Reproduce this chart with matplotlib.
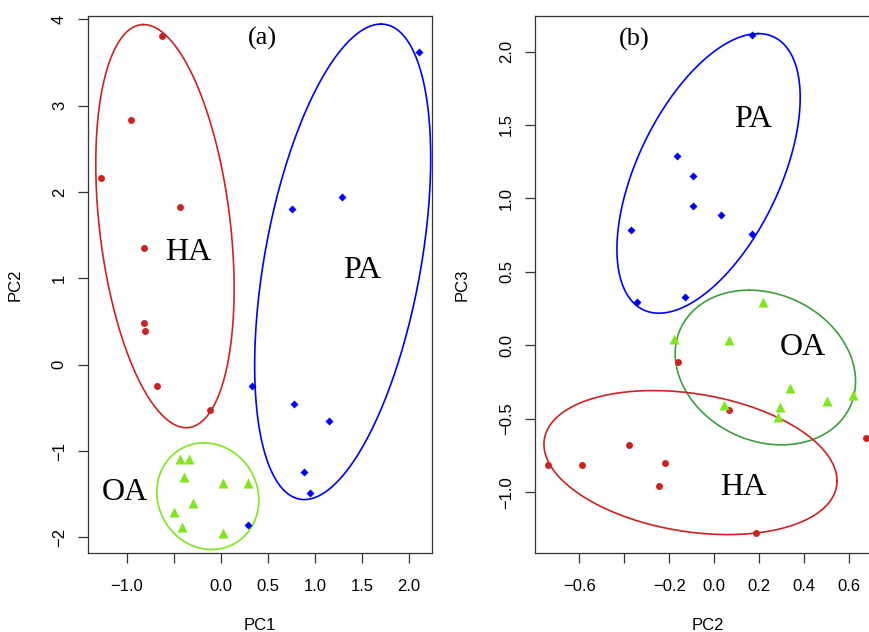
import numpy as np
import matplotlib
matplotlib.use("Agg")
import matplotlib.pyplot as plt

plt.rcParams['font.family'] = ['Liberation Sans', 'DejaVu Sans']

# panel (a): PC1 vs PC2
ha_a_x = [-0.63, -0.96, -1.28, -0.44, -0.82, -0.82, -0.805, -0.684, -0.12]
ha_a_y = [3.81, 2.835, 2.16, 1.83, 1.35, 0.48, 0.39, -0.247, -0.525]
pa_a_x = [2.106, 1.287, 0.755, 0.326, 0.78, 1.145, 0.883, 0.947, 0.29]
pa_a_y = [3.62, 1.943, 1.81, -0.243, -0.455, -0.649, -1.247, -1.49, -1.85]
oa_a_x = [-0.436, -0.344, -0.39, 0.025, 0.287, -0.295, -0.5, -0.415, 0.025]
oa_a_y = [-1.096, -1.089, -1.30, -1.367, -1.367, -1.60, -1.71, -1.884, -1.947]

# panel (b): PC2 vs PC3
pa_b_x = [0.168, -0.166, -0.093, -0.096, 0.03, -0.371, 0.169, -0.343, -0.132]
pa_b_y = [2.11, 1.289, 1.15, 0.949, 0.885, 0.783, 0.759, 0.294, 0.331]
ha_b_x = [-0.162, 0.067, 0.678, -0.38, -0.221, -0.741, -0.589, -0.245, 0.187]
ha_b_y = [-0.115, -0.44, -0.627, -0.679, -0.802, -0.813, -0.815, -0.956, -1.277]
oa_b_x = [0.218, -0.179, 0.068, 0.338, 0.502, 0.616, 0.045, 0.294, 0.284]
oa_b_y = [0.297, 0.041, 0.039, -0.287, -0.38, -0.338, -0.408, -0.419, -0.484]

# ellipses: centre, conjugate half-axis u, conjugate half-axis v
ell_a = {
    'HA': ((-0.596, 1.606), (-0.2275, 2.335), (0.70, 0.0)),
    'PA': ((1.295, 1.193), (0.408, 2.754), (0.843, 0.0)),
    'OA': ((-0.14, -1.522), (-0.041, 0.6175), (0.541, 0.0)),
}
ell_b = {
    'PA': ((-0.025, 1.1705), (0.221, 0.9515), (0.343, 0.0)),
    'OA': ((0.228, -0.1505), (-0.072, 0.5265), (0.395, 0.0)),
    'HA': ((-0.1055, -0.7975), (0.6525, -0.1245), (0.0, 0.474)),
}

RED = '#CC2222'
BLUE = '#0000FF'
LGREEN = '#80E61E'
DGREEN = '#3E9E3E'


def ellipse(ax, c, u, v, color):
    t = np.linspace(0, 2 * np.pi, 300)
    x = c[0] + u[0] * np.cos(t) + v[0] * np.sin(t)
    y = c[1] + u[1] * np.cos(t) + v[1] * np.sin(t)
    ax.plot(x, y, color=color, lw=1.2, zorder=2)


def style(ax):
    for s in ax.spines.values():
        s.set_color('#333333')
        s.set_linewidth(0.9)
    ax.tick_params(direction='out', length=7, width=0.9, color='#333333',
                   labelsize=12, pad=8)
    ax.tick_params(axis='x', pad=12)
    ax.tick_params(axis='y', labelrotation=90)
    for lab in ax.get_yticklabels():
        lab.set_va('center')


fig = plt.figure(figsize=(8.69, 6.32), dpi=100)
ax1 = fig.add_axes([0.1009, 0.125, 0.3962, 0.8502])
ax2 = fig.add_axes([0.6156, 0.125, 0.398, 0.8502])

# ----- (a)
ellipse(ax1, *ell_a['HA'], RED)
ellipse(ax1, *ell_a['PA'], BLUE)
ellipse(ax1, *ell_a['OA'], LGREEN)
ax1.plot(ha_a_x, ha_a_y, 'o', color=RED, ms=5, mec='none', zorder=3)
ax1.plot(pa_a_x, pa_a_y, 'D', color=BLUE, ms=4, mec='none', zorder=3)
ax1.plot(oa_a_x, oa_a_y, '^', color=LGREEN, ms=7.5, mec='none', zorder=3)
ax1.set_xlim(-1.418, 2.245)
ax1.set_ylim(-2.18, 4.044)
xt = [-1.0, -0.5, 0.0, 0.5, 1.0, 1.5, 2.0]
ax1.set_xticks(xt)
ax1.set_xticklabels(['\u22121.0', '', '0.0', '0.5', '1.0', '1.5', '2.0'])
yt = [-2, -1, 0, 1, 2, 3, 4]
ax1.set_yticks(yt)
ax1.set_yticklabels(['\u22122', '\u22121', '0', '1', '2', '3', '4'])
style(ax1)
ax1.set_xlabel('PC1', fontsize=12)
ax1.xaxis.set_label_coords(0.5, -0.134)
ax1.xaxis.label.set_va('center')
ax1.set_ylabel('PC2', fontsize=12)
ax1.yaxis.set_label_coords(-0.211, 0.5)
ax1.yaxis.label.set_va('center')

serif = dict(family='Liberation Serif', ha='center', va='center')
ax1.text(0.436, 3.785, '(a)', fontsize=19, **serif)
ax1.text(-0.35, 1.306, 'HA', fontsize=23, **serif)
ax1.text(1.5, 1.095, 'PA', fontsize=23, **serif)
ax1.text(-1.02, -1.475, 'OA', fontsize=23, **serif)

# ----- (b)
ellipse(ax2, *ell_b['PA'], BLUE)
ellipse(ax2, *ell_b['OA'], DGREEN)
ellipse(ax2, *ell_b['HA'], RED)
ax2.plot(ha_b_x, ha_b_y, 'o', color=RED, ms=5, mec='none', zorder=3)
ax2.plot(pa_b_x, pa_b_y, 'D', color=BLUE, ms=4, mec='none', zorder=3)
ax2.plot(oa_b_x, oa_b_y, '^', color=LGREEN, ms=7.5, mec='none', zorder=3)
ax2.set_xlim(-0.798, 0.742)
ax2.set_ylim(-1.413, 2.244)
xt2 = [-0.6, -0.4, -0.2, 0.0, 0.2, 0.4, 0.6]
ax2.set_xticks(xt2)
ax2.set_xticklabels(['\u22120.6', '', '\u22120.2', '0.0', '0.2', '0.4', '0.6'])
yt2 = [-1.0, -0.5, 0.0, 0.5, 1.0, 1.5, 2.0]
ax2.set_yticks(yt2)
ax2.set_yticklabels(['\u22121.0', '\u22120.5', '0.0', '0.5', '1.0', '1.5', '2.0'])
style(ax2)
ax2.set_xlabel('PC2', fontsize=12)
ax2.xaxis.set_label_coords(0.5, -0.134)
ax2.xaxis.label.set_va('center')
ax2.set_ylabel('PC3', fontsize=12)
ax2.yaxis.set_label_coords(-0.211, 0.5)
ax2.yaxis.label.set_va('center')

ax2.text(-0.356, 2.079, '(b)', fontsize=19, **serif)
ax2.text(0.172, 1.535, 'PA', fontsize=23, **serif)
ax2.text(0.394, -0.014, 'OA', fontsize=23, **serif)
ax2.text(0.128, -0.965, 'HA', fontsize=23, **serif)

fig.savefig('out.png', dpi=100)
